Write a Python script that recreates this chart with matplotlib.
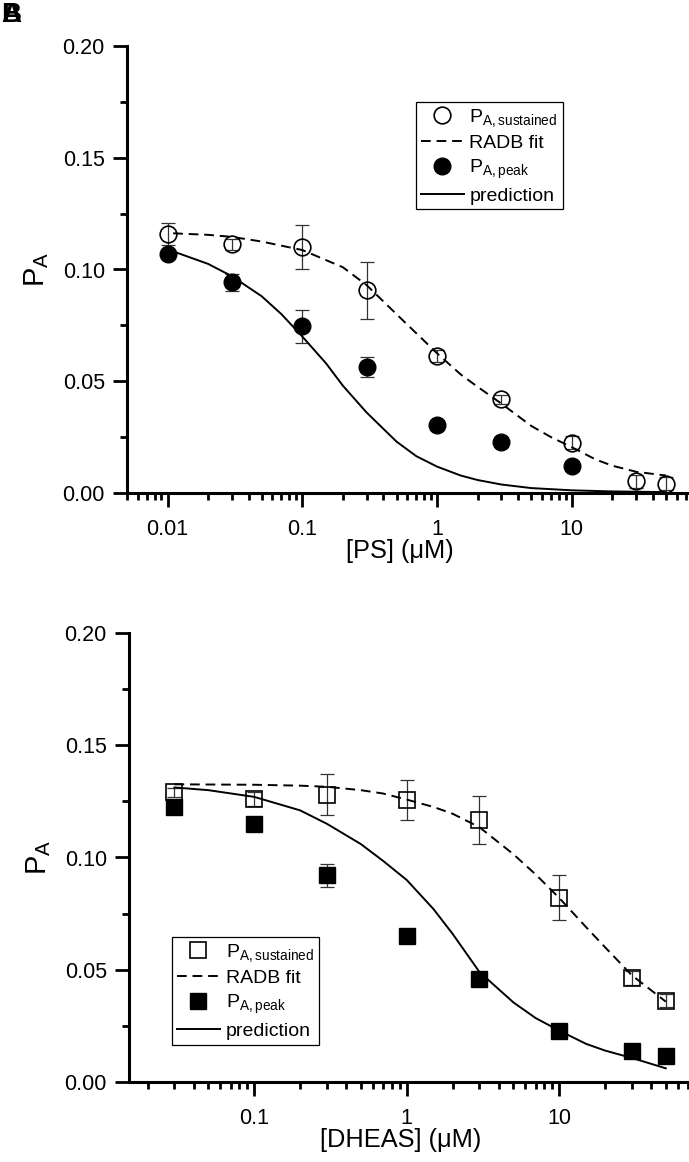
import matplotlib
matplotlib.use("Agg")
import matplotlib.pyplot as plt
from matplotlib.lines import Line2D
from matplotlib.ticker import FixedLocator, LogLocator, NullFormatter, MultipleLocator

plt.rcParams['font.family'] = ['Liberation Sans', 'DejaVu Sans']
plt.rcParams['mathtext.default'] = 'regular'

# ---- panel A: PS ----
ps_conc = [0.01, 0.03, 0.1, 0.3, 1, 3, 10, 30, 50]
ps_sus = [0.1158, 0.1112, 0.1101, 0.0907, 0.0613, 0.0419, 0.0225, 0.0052, 0.0042]
ps_sus_err = [0.005, 0.0025, 0.0099, 0.0127, 0.0025, 0.002, 0.003, 0.003, 0.003]
ps_peak_conc = [0.01, 0.03, 0.1, 0.3, 1, 3, 10]
ps_peak = [0.1069, 0.0942, 0.0746, 0.0564, 0.0303, 0.0228, 0.0119]
ps_peak_err = [0.002, 0.0037, 0.0075, 0.0045, 0.002, 0.002, 0.002]

ps_fit_x = [0.011, 0.02, 0.03, 0.05, 0.1, 0.2, 0.3, 0.5, 0.7, 1, 1.5, 2, 3, 5, 7, 10, 15, 20, 30, 50]
ps_fit_y = [0.1162, 0.1155, 0.1146, 0.1125, 0.1087, 0.101, 0.093, 0.080, 0.0715, 0.0625, 0.053,
            0.0475, 0.040, 0.030, 0.025, 0.0205, 0.015, 0.0122, 0.0095, 0.0078]
ps_pred_x = [0.01, 0.02, 0.03, 0.05, 0.07, 0.1, 0.15, 0.2, 0.3, 0.5, 0.7, 1, 1.5, 2, 3, 5, 10, 20, 50]
ps_pred_y = [0.109, 0.1025, 0.097, 0.088, 0.080, 0.070, 0.058, 0.048, 0.036, 0.023, 0.0165, 0.0118,
             0.0078, 0.0058, 0.0038, 0.0022, 0.0012, 0.0007, 0.0004]

# ---- panel B: DHEAS ----
dh_conc = [0.03, 0.1, 0.3, 1, 3, 10, 30, 50]
dh_sus = [0.129, 0.126, 0.128, 0.1255, 0.1167, 0.082, 0.0463, 0.0362]
dh_sus_err = [0.002, 0.003, 0.009, 0.009, 0.0105, 0.010, 0.003, 0.003]
dh_peak = [0.1225, 0.115, 0.092, 0.0652, 0.046, 0.0229, 0.0138, 0.0115]
dh_peak_err = [0.002, 0.002, 0.005, 0.002, 0.002, 0.002, 0.002, 0.002]

dh_fit_x = [0.03, 0.1, 0.2, 0.3, 0.5, 0.7, 1, 1.5, 2, 3, 5, 7, 10, 15, 20, 30, 50]
dh_fit_y = [0.1326, 0.1324, 0.132, 0.1315, 0.130, 0.1285, 0.1258, 0.1225, 0.1195, 0.1135, 0.1015,
            0.0925, 0.082, 0.069, 0.060, 0.0475, 0.0358]
dh_pred_x = [0.03, 0.05, 0.1, 0.2, 0.3, 0.5, 0.7, 1, 1.5, 2, 3, 5, 7, 10, 15, 20, 30, 50]
dh_pred_y = [0.1312, 0.130, 0.127, 0.121, 0.115, 0.106, 0.0985, 0.090, 0.077, 0.066, 0.049, 0.0355,
             0.0285, 0.0229, 0.017, 0.014, 0.0107, 0.0061]

W, H = 689, 1162
fig = plt.figure(figsize=(W / 100, H / 100), dpi=100)

axA = fig.add_axes([127 / W, 1 - 493 / H, (W - 127) / W, (493 - 46) / H])
axB = fig.add_axes([129 / W, 1 - 1082 / H, (W - 129) / W, (1082 - 633) / H])


def style(ax, xlim, majors, xlabel):
    ax.set_xscale('log')
    ax.set_xlim(*xlim)
    ax.set_ylim(0, 0.2)
    for s in ['top', 'right']:
        ax.spines[s].set_visible(False)
    for s in ['left', 'bottom']:
        ax.spines[s].set_linewidth(2.2)
    ax.xaxis.set_major_locator(FixedLocator(majors))
    ax.set_xticklabels([('%g' % m) for m in majors])
    ax.xaxis.set_minor_locator(LogLocator(base=10, subs=range(2, 10), numticks=20))
    ax.xaxis.set_minor_formatter(NullFormatter())
    ax.yaxis.set_major_locator(MultipleLocator(0.05))
    ax.yaxis.set_minor_locator(MultipleLocator(0.025))
    ax.set_yticklabels(['%.2f' % v for v in ax.get_yticks()])
    ax.tick_params(which='major', direction='out', length=10, width=2, labelsize=15.5, pad=6)
    ax.tick_params(axis='x', which='major', pad=9)
    ax.tick_params(which='minor', direction='out', length=5, width=2)
    ax.set_xlabel(xlabel, fontsize=18.3)
    ax.xaxis.set_label_coords(0.485, -0.102)
    ax.set_ylabel('P$_{A}$', fontsize=21, labelpad=8)


def draw(ax, x, ys, es, xp, yp, ep, fx, fy, px, py, mk, ms):
    ax.errorbar(x, ys, yerr=es, fmt='none', ecolor='#333333', elinewidth=0.9, capsize=5, capthick=0.9, zorder=2)
    ax.errorbar(xp, yp, yerr=ep, fmt='none', ecolor='#333333', elinewidth=0.9, capsize=5, capthick=0.9, zorder=2)
    ax.plot(fx, fy, color='black', lw=1.4, ls=(0, (5, 3)), zorder=3)
    ax.plot(px, py, color='black', lw=1.4, zorder=3)
    ax.plot(x, ys, ls='none', marker=mk, ms=ms, mfc='none', mec='black', mew=1.2, zorder=4)
    ax.plot(xp, yp, ls='none', marker=mk, ms=ms, mfc='black', mec='black', zorder=4)


def legend(ax, mk, anchor):
    handles = [
        Line2D([], [], ls='none', marker=mk, ms=12, mfc='none', mec='black', mew=1.2),
        Line2D([], [], color='black', lw=1.4, ls=(0, (5, 3))),
        Line2D([], [], ls='none', marker=mk, ms=12, mfc='black', mec='black'),
        Line2D([], [], color='black', lw=1.4),
    ]
    labels = ['P$_{A,sustained}$', 'RADB fit', 'P$_{A,peak}$', 'prediction']
    leg = ax.legend(handles, labels, loc='upper left', bbox_to_anchor=anchor, fontsize=14,
                    frameon=True, fancybox=False, edgecolor='black', framealpha=1,
                    handlelength=2.2, handletextpad=0.3, labelspacing=0.3, borderpad=0.25,
                    borderaxespad=0)
    leg.get_frame().set_linewidth(0.9)


style(axA, (0.005, 74), [0.01, 0.1, 1, 10], '[PS] (\u03bcM)')
draw(axA, ps_conc, ps_sus, ps_sus_err, ps_peak_conc, ps_peak, ps_peak_err,
     ps_fit_x, ps_fit_y, ps_pred_x, ps_pred_y, 'o', 12)
legend(axA, 'o', (0.514, 0.875))

style(axB, (0.0151, 71), [0.1, 1, 10], '[DHEAS] (\u03bcM)')
draw(axB, dh_conc, dh_sus, dh_sus_err, dh_conc, dh_peak, dh_peak_err,
     dh_fit_x, dh_fit_y, dh_pred_x, dh_pred_y, 's', 11)
legend(axB, 's', (0.077, 0.323))

fig.text(0.002, 0.998, 'A', fontsize=20, fontweight='bold', va='top', ha='left')
fig.text(0.002, 0.998, 'B', fontsize=20, fontweight='bold', va='top', ha='left')

fig.savefig('out.png', dpi=100)
